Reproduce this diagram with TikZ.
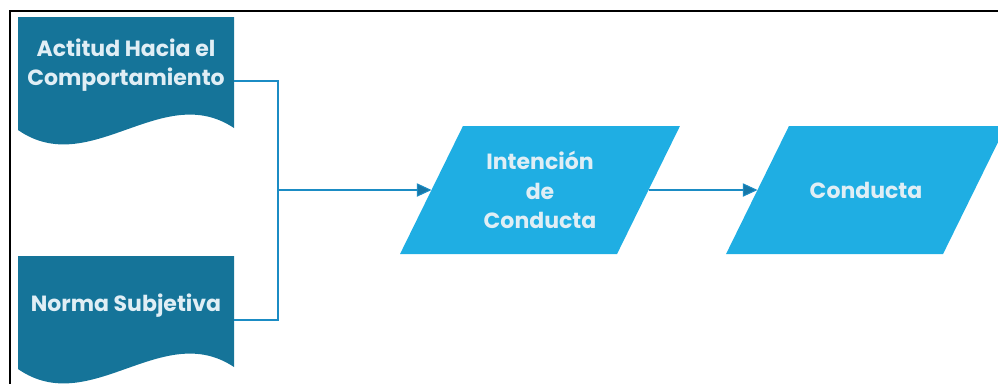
\documentclass[tikz,border=0pt]{standalone}
\usepackage{fontspec}
\setmainfont{Poppins}
\usetikzlibrary{arrows.meta}
\usetikzlibrary{calc}
\usetikzlibrary{backgrounds}

\definecolor{docblue}{HTML}{157499}
\definecolor{ioblue}{HTML}{1FAEE3}
\definecolor{linkblue}{HTML}{1B8CC4}
\definecolor{labelcol}{HTML}{E0EEF5}

\begin{document}
\begin{tikzpicture}[x=0.75pt, y=-0.75pt]

\tikzstyle{tratext}=[align=center, text=labelcol,
font=\bfseries\fontsize{16.5}{22}\selectfont]
\tikzstyle{tranode}=[inner sep=0pt, minimum width=162pt, minimum height=96pt,
path picture={\fill[docblue] (path picture bounding box.north west)
 -- (path picture bounding box.north east)
 -- ($(path picture bounding box.south east)+(0,12.75pt)$)
 .. controls ($(path picture bounding box.south west)+(108pt,48.75pt)$)
 and ($(path picture bounding box.south west)+(54pt,-26.25pt)$)
 .. ($(path picture bounding box.south west)+(0,11.25pt)$) -- cycle;}]
\tikzstyle{traelement}=[tratext, inner sep=0pt, outer sep=0pt,
minimum width=162.75pt, minimum height=96pt]
\tikzstyle{tralink}=[draw=linkblue, line width=0.8pt,
-{Triangle[length=11pt, width=10pt, fill=linkblue!85!black]}]

\useasboundingbox (0,0) rectangle (998,383);
\clip (0,0) rectangle (998,383);
\draw[line width=1.5pt] (1100,11) -- (9.5,11) -- (9.5,450);

\node[tranode, label={[tratext, name=actitudtxt, yshift=12pt]center:Actitud Hacia el\\Comportamiento}]
 (actitud) at (126,81) {};
\node[tranode, label={[tratext, name=normatxt, yshift=11pt]center:Norma Subjetiva}]
 (norma) at (126,320) {};
\node[traelement] (intencion) at (540,190) {Intenci\'on\\de\\Conducta};
\node[traelement] (conducta) at (866,190) {Conducta};

% parallelogram bodies
\begin{scope}[on background layer]
\foreach \n in {intencion,conducta}
 \fill[ioblue] ($(\n.south west)+(-23.6pt,0)$) -- ($(\n.north west)+(23.6pt,0)$)
  -- ($(\n.north east)+(23.6pt,0)$) -- ($(\n.south east)+(-23.6pt,0)$) -- cycle;
\end{scope}

\coordinate (junta) at (278,190);
\draw[tralink, -] (actitud.east) -| (junta);
\draw[tralink, -] (norma.east) -| (junta);
\draw[tralink] (junta) -- (intencion);
\draw[tralink] (intencion) -- (conducta);
\end{tikzpicture}
\end{document}
